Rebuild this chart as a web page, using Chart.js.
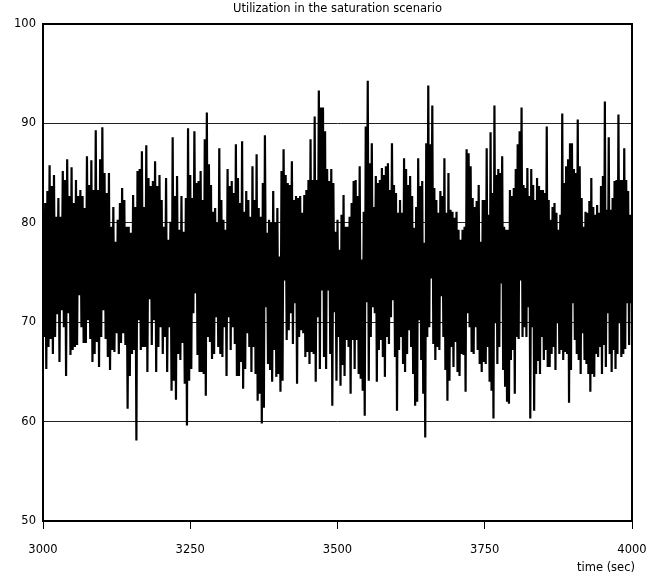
<!DOCTYPE html>
<html><head><meta charset="utf-8">
<script src="https://cdn.jsdelivr.net/npm/chart.js@4/dist/chart.umd.min.js"></script>
<style>html,body{margin:0;padding:0;background:#fff}#wrap{width:655px;height:577px}</style>
</head><body><div id="wrap"><canvas id="c" width="655" height="577"></canvas></div>
<script>
const chartTitle = "Utilization in the saturation scenario";
const xAxisTitle = "time (sec)";
const xTicks = [3000, 3250, 3500, 3750, 4000];
const yTicks = [50, 60, 70, 80, 90, 100];
const segmentStarts = [3000, 3250, 3500, 3750];
const segmentSpan = 250;

// utilization (%), alternating local peaks and troughs
const util3000 = [80.0,68.5, 82.0,65.3, 83.2,67.5, 85.8,68.3, 83.7,66.8, 84.8,68.5, 80.6,70.8, 82.5,66.0, 80.6,71.2, 85.2,69.5, 84.3,64.6, 86.4,70.9, 82.7,66.7, 85.6,67.2, 82.0,67.5, 84.3,67.7, 82.7,72.7, 83.3,69.5, 82.7,67.9, 81.5,67.9, 86.7,70.2, 83.8,68.3, 86.3,66.0, 83.3,66.8, 89.3,68.0, 83.3,65.5, 86.4,68.5, 89.6,71.2, 85.0,68.3, 83.0,66.5, 85.0,65.2, 79.6,67.2, 81.6,67.0, 78.1,68.9, 80.3,66.8, 82.0,67.9, 83.5,68.9, 82.3,67.7, 79.6,61.3, 79.6,64.6, 79.0,66.8, 82.8,67.2, 81.6,58.1, 85.2,70.2, 85.4,67.2, 87.2,67.5, 81.6,67.5, 87.8,65.0, 84.5,72.3, 83.7,67.7, 84.2,70.2, 86.2,65.0, 83.7,67.5, 84.8,69.5, 82.3,66.8, 79.6,68.5, 84.5,65.0, 78.3,69.5, 80.1,63.1, 88.6,64.1, 82.7,62.2, 84.7,66.8, 79.3,66.2, 82.7,67.9, 79.1,63.8, 82.5,59.6, 89.5,64.1];
const util3250 = [84.8,65.3, 82.5,70.9, 89.2,72.9, 84.0,66.7, 84.2,65.0, 85.2,65.0, 82.3,64.8, 88.4,62.6, 91.1,68.5, 85.9,68.0, 83.8,66.3, 81.1,66.8, 81.5,70.5, 80.0,67.5, 87.5,66.8, 82.3,66.5, 80.3,69.5, 79.3,64.6, 85.4,70.5, 83.7,67.2, 84.2,69.5, 83.0,67.8, 87.9,64.6, 84.5,64.6, 82.0,66.0, 88.2,63.3, 81.1,65.3, 83.2,68.9, 82.3,67.5, 80.6,65.0, 85.7,67.5, 82.3,64.8, 86.9,62.1, 81.5,62.8, 80.6,59.8, 84.0,61.4, 88.8,71.5, 79.0,65.8, 80.3,65.2, 80.0,64.0, 83.2,67.2, 80.0,64.5, 81.5,64.8, 76.6,63.0, 85.2,64.1, 87.4,74.2, 84.8,68.2, 84.0,69.2, 83.8,70.9, 86.2,67.8, 82.3,71.9, 82.7,63.8, 82.5,68.5, 82.7,69.2, 81.0,68.9, 82.8,66.5, 83.3,67.0, 84.3,65.8, 88.4,67.0, 84.3,66.8, 90.7,64.0, 84.3,70.5, 93.3,65.3, 91.6,73.2, 91.6,66.5, 89.2,65.3, 85.4,73.2, 84.2,66.8, 85.4,61.6, 84.0,71.0, 79.1,64.1];
const util3500 = [80.3,68.5, 77.3,63.6, 80.8,65.7, 82.8,64.6, 79.6,68.2, 79.6,67.5, 80.6,62.8, 82.0,68.2, 84.2,65.3, 84.3,68.2, 82.7,64.8, 85.7,64.3, 76.3,63.1, 81.1,60.6, 89.7,72.0, 94.3,64.1, 86.0,68.5, 88.0,71.5, 81.6,70.9, 84.7,64.0, 84.0,67.2, 84.3,68.2, 85.5,66.5, 84.8,64.5, 85.7,68.5, 86.0,67.8, 83.3,70.5, 88.0,72.2, 83.8,66.5, 83.0,61.1, 81.0,67.2, 82.3,68.5, 81.0,65.8, 86.5,65.0, 85.4,66.8, 83.8,69.2, 84.7,67.5, 82.7,64.8, 79.5,61.6, 81.6,62.0, 86.5,70.2, 83.7,66.2, 84.2,62.8, 78.0,58.4, 88.0,68.5, 93.8,69.5, 87.9,74.4, 91.8,67.8, 83.5,66.2, 82.3,67.5, 81.0,67.2, 83.2,72.6, 82.7,68.5, 86.5,65.2, 81.0,62.1, 85.0,64.1, 81.3,67.5, 81.1,65.5, 80.5,68.0, 81.1,65.0, 79.3,64.6, 78.3,66.8, 79.3,66.7, 79.6,63.0, 87.4,70.9, 87.0,69.5, 85.7,67.0, 82.5,66.8, 81.6,69.5, 82.2,67.2, 83.8,65.8, 78.1,65.0, 82.3,66.0];
const util3750 = [82.3,65.8, 87.5,67.5, 80.8,64.0, 89.1,63.1, 83.0,60.3, 91.8,69.9, 84.8,65.8, 85.4,67.5, 85.0,73.9, 86.7,65.2, 79.6,63.5, 79.3,62.1, 79.3,61.8, 83.3,66.2, 82.7,67.2, 83.5,62.8, 85.4,68.5, 87.9,68.3, 89.2,74.2, 91.6,68.5, 83.8,69.5, 83.5,68.5, 85.5,71.5, 82.7,60.3, 85.4,69.5, 83.8,61.1, 82.3,64.8, 84.5,66.2, 83.7,64.8, 83.3,68.5, 83.3,66.2, 83.0,67.2, 89.7,65.5, 82.3,65.5, 80.3,66.8, 81.6,67.5, 82.0,65.2, 81.0,69.9, 79.3,66.8, 80.8,67.2, 91.0,66.2, 84.0,67.0, 85.7,66.8, 86.4,61.9, 88.0,65.2, 88.0,71.9, 85.4,68.2, 85.0,66.8, 90.4,66.2, 85.7,64.8, 82.5,68.9, 79.6,66.2, 81.1,65.8, 81.0,64.8, 82.2,63.0, 84.5,64.8, 81.6,64.5, 80.8,66.8, 81.8,66.5, 81.0,67.5, 83.7,64.8, 84.7,67.7, 92.2,65.5, 81.3,70.9, 88.6,66.8, 81.3,65.0, 82.5,67.2, 84.2,65.3, 84.3,66.8, 90.9,69.9, 84.3,66.5, 84.3,66.8, 87.5,67.3, 84.3,71.9, 83.2,67.7, 80.8,71.9, 80.8];

const segments = [util3000, util3250, util3500, util3750];
const points = [];
segments.forEach((seg, k) => {
  const last = k === segments.length - 1;
  const step = segmentSpan / (last ? seg.length - 1 : seg.length);
  seg.forEach((v, j) => points.push({ x: segmentStarts[k] + j * step, y: v }));
});

const FONT = 'DejaVu Sans';
const framePlugin = {
  id: 'frameAndTitle',
  afterDraw(chart) {
    const { ctx, chartArea: a } = chart;
    ctx.save();
    ctx.strokeStyle = '#000';
    ctx.lineWidth = 2;
    ctx.strokeRect(a.left, a.top, a.right - a.left, a.bottom - a.top);
    ctx.fillStyle = '#000';
    ctx.font = '11.5px "' + FONT + '"';
    ctx.textBaseline = 'middle';
    ctx.textAlign = 'center';
    ctx.fillText(chartTitle, (a.left + a.right) / 2, 9);
    ctx.textAlign = 'right';
    ctx.fillText(xAxisTitle, a.right + 3, 568);
    ctx.restore();
  }
};

new Chart(document.getElementById('c'), {
  type: 'line',
  data: { datasets: [{ data: points, borderColor: '#000', borderWidth: 2.2, pointRadius: 0, tension: 0, fill: false }] },
  options: {
    responsive: false, animation: false, devicePixelRatio: 1,
    layout: { padding: { top: 24, right: 23, left: 0, bottom: 0 } },
    plugins: { legend: { display: false }, tooltip: { enabled: false }, title: { display: false } },
    scales: {
      x: {
        type: 'linear', min: xTicks[0], max: xTicks[xTicks.length - 1],
        afterBuildTicks(s) { s.ticks = xTicks.map(v => ({ value: v })); },
        afterFit(s) { s.height = 56; s.paddingLeft = 0; s.paddingRight = 0; },
        grid: { drawOnChartArea: false, drawTicks: true, tickLength: 8, color: '#000', lineWidth: 1 },
        border: { display: false },
        ticks: { padding: 14, color: '#000', font: { family: FONT, size: 11.5 }, maxRotation: 0, autoSkip: false, callback: v => String(v) }
      },
      y: {
        min: yTicks[0], max: yTicks[yTicks.length - 1],
        afterBuildTicks(s) { s.ticks = yTicks.map(v => ({ value: v })); },
        afterFit(s) { s.width = 43; s.paddingTop = 0; s.paddingBottom = 0; },
        grid: { drawOnChartArea: true, drawTicks: false, color: '#222', lineWidth: 1 },
        border: { display: false },
        ticks: { padding: 7, color: '#000', font: { family: FONT, size: 11.5 }, callback: v => String(v) }
      }
    }
  },
  plugins: [framePlugin]
});
</script></body></html>
